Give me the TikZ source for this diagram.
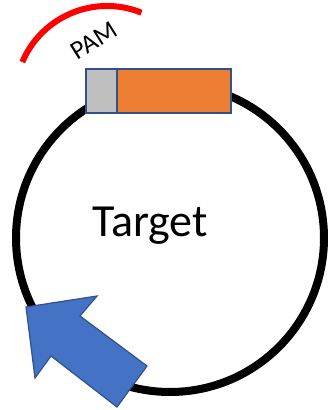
\documentclass[tikz,border=0pt]{standalone}
\usepackage{fontspec}
\setmainfont{Carlito}

\definecolor{pamred}{HTML}{FF0000}
\definecolor{protoorange}{HTML}{ED7D31}
\definecolor{seedgray}{HTML}{BFBFBF}
\definecolor{edgeblue}{HTML}{2F528F}
\definecolor{arrowblue}{HTML}{4472C4}

\tikzset{
  block/.style={draw=edgeblue, line width=1.5pt},
}

\begin{document}
\begin{tikzpicture}[x=1pt, y=1pt]
    \useasboundingbox (0,0) rectangle (334,410);
    % plasmid ring
    \draw [line width=8pt] (170,172) circle (154);
    % PAM arc and label
    \draw [line width=6pt, pamred] (107,312) ++(157:92) arc (157:68:92);
    \node (pam) [rotate=32, font=\fontsize{26}{30}\selectfont] at (94,369) {PAM};
    % target site on the ring
    \draw [block, fill=seedgray] (86,297) rectangle (117,341);
    \draw [block, fill=protoorange] (117,297) rectangle (231,341);
    \node (target) [anchor=base, font=\fontsize{46}{52}\selectfont] at (150,173) {Target};
    % block arrow
    \draw [line width=1.2pt, draw=edgeblue, fill=arrowblue, line join=miter]
      (26,103) -- (97,114) -- (80,94) -- (147,44) -- (117,3) -- (51,54) -- (35,32) -- cycle;
  \end{tikzpicture}
\end{document}
